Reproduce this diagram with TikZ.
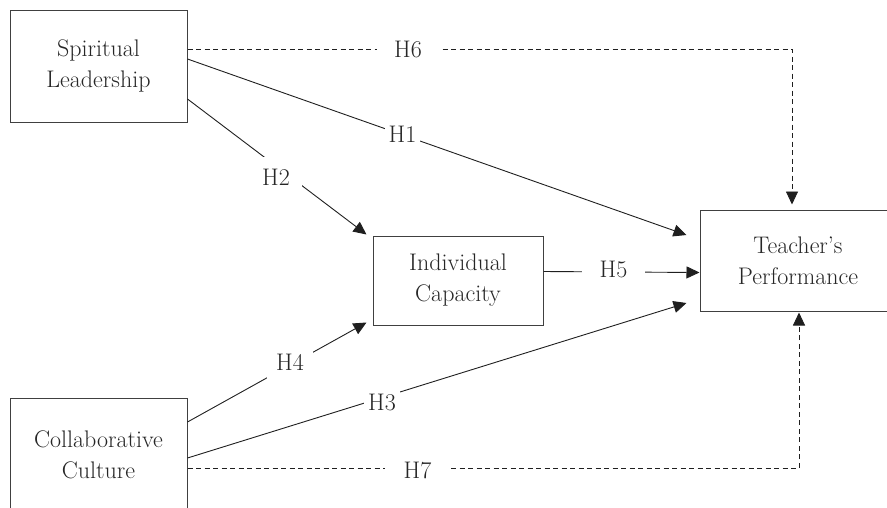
\documentclass[tikz,border=0pt]{standalone}
\usetikzlibrary{arrows.meta,calc}
\begin{document}
\begin{tikzpicture}[x=1pt,y=-1pt,
  box/.style={draw=black!75,line width=1pt,align=center,font=\fontsize{24}{31}\selectfont,text=black!85,inner sep=0pt},
  hlab/.style={fill=white,font=\fontsize{24}{28}\selectfont,text=black!85,inner sep=5pt},
  conn/.style={draw=black!88,line width=0.9pt},
  tip/.style={-{Triangle[length=13pt,width=12pt]}},
  dsh/.style={dash pattern=on 5pt off 3.5pt}]
\useasboundingbox (0,0) rectangle (887,507);
% boxes
\node[box,minimum width=177pt,minimum height=112pt] (SL) at (98.5,66) {Spiritual\\Leadership};
\node[box,minimum width=170pt,minimum height=89pt] (IC) at (458,280.5) {Individual\\Capacity};
\node[box,minimum width=196pt,minimum height=101pt] (TP) at (798,260.5) {Teacher's\\Performance};
\node[box,minimum width=177pt,minimum height=114pt] (CC) at (98.5,455) {Collaborative\\Culture};
% connectors
\draw[conn,tip] ($(SL.east)+(0,-7)$) -- ($(TP.west)+(-13,-25.5)$);
\draw[conn,tip] ($(SL.east)+(0,33)$) -- ($(IC.north west)+(-6,-1)$);
\draw[conn,tip] ($(CC.east)+(0,-33)$) -- ($(IC.south west)+(-6,-3)$);
\draw[conn,tip] ($(CC.east)+(0,3)$) -- ($(TP.west)+(-13,42.5)$);
\draw[conn,tip] ($(IC.east)+(0,-9)$) -- ($(TP.west)+(0,12)$);
\draw[conn,dsh,tip] ($(SL.east)+(0,-17)$) -| ($(TP.north)+(-6,-5)$);
\draw[conn,dsh,tip] ($(CC.east)+(0,13)$) -| ($(TP.south)+(1,1)$);
% labels
\node[hlab,inner sep=4pt] (h1) at (402.5,134) {H1};
\node[hlab,inner sep=12pt] (h2) at (276,177.5) {H2};
\node[hlab,inner sep=4pt] (h3) at (382,402) {H3};
\node[hlab,inner sep=9pt] (h4) at (290,362.5) {H4};
\node[hlab,inner xsep=18pt,inner ysep=4pt] (h5) at (613.5,269) {H5};
\node[hlab,inner xsep=17pt,inner ysep=4pt] (h6) at (408,49.5) {H6};
\node[hlab,inner xsep=19pt,inner ysep=4pt] (h7) at (417.5,470) {H7};
\end{tikzpicture}
\end{document}
